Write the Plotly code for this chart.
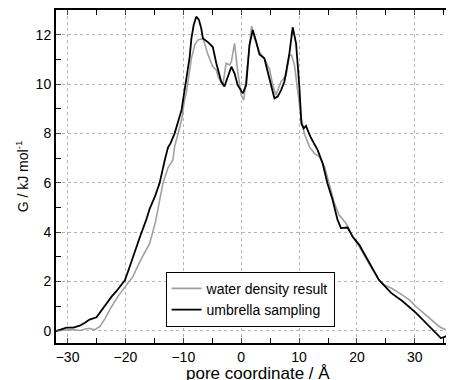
import plotly.graph_objects as go

# umbrella sampling (black)
us_x = [-32, -31, -30.2, -29, -27.9, -27, -26.2, -25, -24.2, -23.3, -22.4, -21.6, -20.1, -19.4, -18.7,
        -17.5, -16.4, -15.8, -14.9, -14.1, -13.2, -12.65, -12.2, -11.5, -10.3, -9.6, -8.9, -8.6, -8.2,
        -7.76, -7.3, -6.9, -6.6, -5.75, -4.9, -4.3, -3.45, -2.9, -2.3, -1.7, -1.15, -0.6, 0.28, 0.86,
        1.43, 2.0, 2.6, 3.16, 4.0, 4.6, 5.2, 5.74, 6.3, 6.9, 7.47, 8.33, 8.9, 9.48, 10.05, 10.4, 10.8,
        11.2, 11.8, 12.1, 13.2, 14.07, 14.9, 15.8, 16.65, 17.24, 18.4, 19.24, 20.4, 21.55, 22.4, 23.8,
        25.9, 27.9, 30.2, 32.5, 33.5, 34.5, 35.05, 35.6, 36.6]
us_g = [-0.02, 0.05, 0.12, 0.12, 0.2, 0.32, 0.45, 0.54, 0.8, 1.12, 1.38, 1.59, 2.04, 2.5, 3.0,
        3.8, 4.5, 4.95, 5.44, 5.98, 6.92, 7.42, 7.6, 8.0, 8.95, 10.0, 11.1, 11.85, 12.4,
        12.73, 12.6, 12.25, 11.85, 11.7, 11.5, 10.84, 10.1, 9.9, 10.3, 10.7, 10.43, 9.95, 9.62, 9.96,
        11.58, 12.19, 11.7, 11.2, 11.04, 10.5, 9.9, 9.42, 9.49, 9.75, 10.1, 11.24, 12.3, 11.65, 9.9, 8.4, 8.2,
        8.3, 7.95, 7.8, 7.33, 6.79, 5.98, 5.3, 4.49, 4.16, 4.18, 3.82, 3.48, 3.0, 2.6, 2.06,
        1.53, 1.19, 0.72, 0.17, -0.05, -0.3, -0.26, -0.2, -0.23]

# water density result (grey)
wd_x = [-32, -30.2, -29, -27.9, -26.4, -25.3, -24.4, -23.5, -22.7, -21.3, -19.8, -18.7, -17.5, -16.5,
        -15.8, -14.8, -14.4, -13.8, -13.5, -12.65, -11.8, -11.5, -10.9, -10.3, -9.8, -9.5, -9.0, -8.6,
        -8.0, -7.5, -6.6, -5.75, -4.9, -4.3, -4.0, -3.17, -2.6, -2.0, -1.7, -1.15, -0.6, 0.0, 0.45, 1.15,
        1.8, 2.3, 3.16, 4.0, 4.9, 5.45, 6.0, 6.9, 7.76, 8.33, 8.7, 9.2, 9.76, 10.3, 10.9, 11.8, 12.64,
        13.5, 14.4, 15.2, 16.1, 16.9, 18.1, 19.2, 20.4, 22.4, 23.8, 24.7, 25.9, 27.5, 29.0, 30.2, 31.9,
        33.0, 34.2, 35.3, 36.6]
wd_g = [0.0, 0.04, 0.05, 0.01, 0.1, 0.04, 0.17, 0.5, 0.85, 1.39, 1.86, 2.2, 2.8, 3.28,
        3.55, 4.42, 4.9, 5.6, 6.0, 6.6, 6.92, 7.46, 8.0, 8.54, 9.35, 9.62, 10.4, 11.04,
        11.6, 11.78, 11.85, 11.2, 10.7, 10.57, 10.3, 9.96, 10.84, 10.77, 10.9, 11.65, 10.5, 9.55, 9.35, 11.04,
        12.35, 11.85, 11.3, 11.04, 10.6, 9.96, 9.55, 10.1, 10.33, 11.17, 11.17, 10.77, 9.83, 8.74, 8.0, 7.45, 7.19,
        7.06, 6.65, 5.98, 5.17, 4.7, 4.36, 3.82, 3.41, 2.6, 2.06, 1.86, 1.73, 1.5, 1.26, 0.98, 0.65,
        0.4, 0.17, 0.04, 0.07]

x_ticks = [-30, -20, -10, 0, 10, 20, 30]
y_ticks = [0, 2, 4, 6, 8, 10, 12]
x_title = "pore coordinate / Å"
y_title = "G / kJ mol<sup>-1</sup>"

font = "Liberation Sans, Arial, sans-serif"

fig = go.Figure()
fig.add_trace(go.Scatter(x=wd_x, y=wd_g, mode="lines", name="water density result",
                         line=dict(color="#a0a0a0", width=1.6)))
fig.add_trace(go.Scatter(x=us_x, y=us_g, mode="lines", name="umbrella sampling",
                         line=dict(color="black", width=1.8)))

# page body has an 8px margin; figure sized so the visible window matches
fig.update_layout(
    width=446, height=372,
    margin=dict(l=48, r=1, t=2, b=37),
    paper_bgcolor="white", plot_bgcolor="white",
    font=dict(family=font, size=14, color="black"),
    showlegend=True,
    legend=dict(x=0.276, y=0.214, xanchor="left", yanchor="top",
                bgcolor="white", bordercolor="black", borderwidth=1,
                font=dict(family=font, size=14, color="black"),
                tracegroupgap=0, itemwidth=30),
    xaxis=dict(range=[-32, 36.6], tickvals=x_ticks, ticks="inside", ticklen=5,
               showline=True, linecolor="black", linewidth=2, mirror="ticks",
               showgrid=True, gridcolor="#b4b4b4", griddash="dot", gridwidth=1,
               zeroline=False, automargin=False, tickfont=dict(size=14),
               minor=dict(dtick=5, tick0=-35, ticks="inside", ticklen=5, tickcolor="black", showgrid=False)),
    yaxis=dict(range=[-0.5, 13], tickvals=y_ticks, ticks="inside", ticklen=5,
               showline=True, linecolor="black", linewidth=2, mirror="ticks",
               showgrid=True, gridcolor="#b4b4b4", griddash="dot", gridwidth=1,
               zeroline=False, automargin=False, tickfont=dict(size=14),
               minor=dict(dtick=1, tick0=1, ticks="inside", ticklen=5, tickcolor="black", showgrid=False),
               title=dict(text=y_title, standoff=4, font=dict(size=14))),
    annotations=[dict(text=x_title, xref="paper", yref="paper", x=0.51, y=-0.092,
                      xanchor="center", yanchor="middle", showarrow=False,
                      font=dict(family=font, size=17, color="black"))],
)

fig.write_html("out.html")
